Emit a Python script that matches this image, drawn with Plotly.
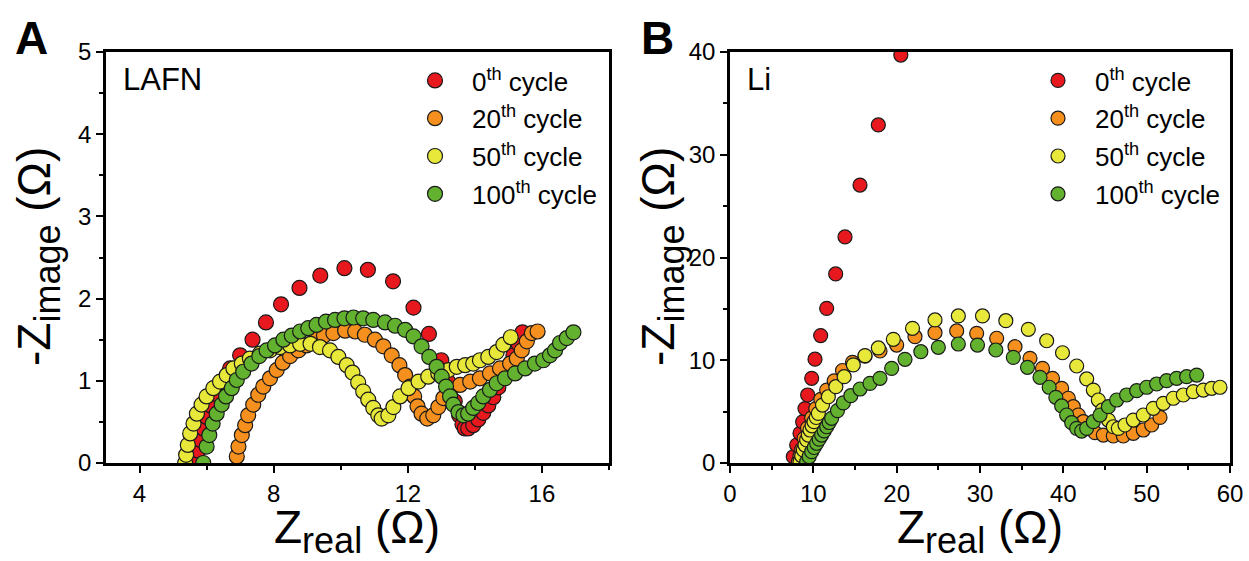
import plotly.graph_objects as go

# ---------------- data: panel A (LAFN) ----------------
cycles = ["0<sup>th</sup> cycle", "20<sup>th</sup> cycle", "50<sup>th</sup> cycle", "100<sup>th</sup> cycle"]
colors = ["#E8191E", "#F5901E", "#E8E83A", "#62B22F"]

lafn_x_0 = [5.70, 5.75, 5.82, 5.90, 6.00, 6.12, 6.26, 6.45, 6.70, 7.00, 7.37, 7.77, 8.22, 8.77,
            9.39, 10.11, 10.81, 11.56, 12.17, 12.63, 13.00, 13.22, 13.40, 13.53, 13.63, 13.70,
            13.80, 13.95, 14.10, 14.25, 14.40, 14.55, 14.70, 14.85, 15.00, 15.15, 15.30, 15.42]
lafn_y_0 = [0.03, 0.15, 0.28, 0.42, 0.56, 0.70, 0.84, 0.99, 1.15, 1.31, 1.50, 1.71, 1.93, 2.13,
            2.28, 2.37, 2.35, 2.21, 1.89, 1.57, 1.25, 0.98, 0.75, 0.58, 0.47, 0.42,
            0.42, 0.46, 0.53, 0.61, 0.70, 0.80, 0.92, 1.05, 1.18, 1.31, 1.45, 1.59]

lafn_x_20 = [6.90, 6.95, 7.05, 7.15, 7.24, 7.39, 7.54, 7.69, 7.89, 8.09, 8.27, 8.49, 8.74, 8.98,
             9.23, 9.50, 9.78, 10.13, 10.43, 10.72, 11.02, 11.27, 11.52, 11.75, 11.92, 12.07,
             12.19, 12.29, 12.41, 12.58, 12.76, 12.91, 13.06, 13.26, 13.56, 13.86, 14.15,
             14.45, 14.75, 15.05, 15.25, 15.40, 15.55, 15.70, 15.87]
lafn_y_20 = [0.08, 0.20, 0.34, 0.46, 0.58, 0.71, 0.83, 0.93, 1.03, 1.13, 1.22, 1.30, 1.37, 1.43,
             1.50, 1.55, 1.58, 1.61, 1.60, 1.56, 1.50, 1.42, 1.31, 1.19, 1.07, 0.93,
             0.81, 0.69, 0.60, 0.54, 0.58, 0.68, 0.79, 0.87, 0.95, 0.99, 1.03,
             1.09, 1.15, 1.21, 1.27, 1.37, 1.48, 1.58, 1.60]

lafn_x_50 = [5.36, 5.39, 5.44, 5.51, 5.61, 5.71, 5.85, 6.00, 6.20, 6.40, 6.60, 6.80, 7.05, 7.29,
             7.59, 7.89, 8.19, 8.49, 8.79, 9.10, 9.38, 9.68, 9.93, 10.18, 10.35, 10.52, 10.67,
             10.82, 10.97, 11.12, 11.22, 11.42, 11.57, 11.77, 12.02, 12.32, 12.61, 12.91,
             13.21, 13.46, 13.71, 13.95, 14.15, 14.40, 14.65, 14.85, 15.07]
lafn_y_50 = [0.00, 0.10, 0.22, 0.36, 0.48, 0.60, 0.71, 0.81, 0.91, 0.99, 1.07, 1.15, 1.21, 1.27,
             1.33, 1.37, 1.41, 1.43, 1.45, 1.45, 1.41, 1.37, 1.29, 1.19, 1.10, 0.98, 0.87,
             0.77, 0.67, 0.58, 0.54, 0.58, 0.68, 0.81, 0.91, 0.99, 1.05, 1.09,
             1.13, 1.17, 1.19, 1.21, 1.25, 1.29, 1.35, 1.44, 1.53]

lafn_x_100 = [5.90, 6.00, 6.08, 6.18, 6.30, 6.45, 6.58, 6.75, 6.90, 7.09, 7.34, 7.57, 7.79, 8.04,
              8.29, 8.54, 8.79, 9.03, 9.28, 9.56, 9.83, 10.11, 10.38, 10.67, 10.97, 11.32,
              11.62, 11.92, 12.17, 12.41, 12.64, 12.86, 13.01, 13.14, 13.26, 13.36, 13.51,
              13.66, 13.80, 13.95, 14.10, 14.25, 14.45, 14.65, 14.90, 15.20, 15.50, 15.79,
              16.04, 16.24, 16.39, 16.54, 16.74, 16.94]
lafn_y_100 = [0.00, 0.20, 0.34, 0.48, 0.60, 0.71, 0.81, 0.91, 1.01, 1.11, 1.21, 1.30, 1.37, 1.43,
              1.50, 1.55, 1.60, 1.64, 1.68, 1.72, 1.74, 1.76, 1.77, 1.76, 1.74, 1.71,
              1.67, 1.62, 1.54, 1.42, 1.29, 1.17, 1.05, 0.93, 0.81, 0.71, 0.62,
              0.58, 0.60, 0.67, 0.73, 0.81, 0.89, 0.97, 1.03, 1.09, 1.15, 1.21,
              1.25, 1.31, 1.37, 1.46, 1.52, 1.59]

# ---------------- data: panel B (Li) ----------------
li_x_0 = [7.6, 8.0, 8.4, 8.72, 9.0, 9.32, 9.8, 10.2, 10.88, 11.6, 12.68, 13.8, 15.6, 17.8, 20.5]
li_y_0 = [0.61, 1.75, 2.89, 4.0, 5.3, 6.62, 8.24, 10.1, 12.4, 15.05, 18.4, 22.0, 27.05, 32.9, 39.7]

li_x_20 = [8.2, 8.4, 8.6, 8.9, 9.3, 9.8, 10.3, 10.9, 11.6, 12.5, 13.5, 14.7, 16.2, 18.0, 20.0, 22.2,
           24.6, 27.2, 29.6, 32.0, 34.2, 36.0, 37.5, 38.7, 39.8, 40.6, 41.2, 41.8, 42.4, 43.0,
           43.8, 44.8, 46.0, 47.2, 48.4, 49.6, 50.6, 51.6]
li_y_20 = [0.1, 0.7, 1.3, 2.4, 3.4, 4.4, 5.3, 6.2, 7.1, 8.0, 9.0, 9.8, 10.4, 10.9, 11.48, 12.29,
           12.68, 12.85, 12.62, 12.14, 11.32, 10.19, 9.21, 8.24, 7.27, 6.30, 5.48, 4.67, 4.02, 3.37,
           2.95, 2.72, 2.63, 2.63, 2.89, 3.21, 3.70, 4.44]

li_x_50 = [8.4, 8.6, 8.8, 9.0, 9.2, 9.4, 9.6, 9.85, 10.08, 10.35, 10.6, 11.1, 11.8, 12.7, 13.7, 14.8,
           16.2, 17.8, 19.6, 21.9, 24.6, 27.4, 30.3, 33.1, 35.8, 38.0, 39.9, 41.6, 42.8, 43.6, 44.2,
           44.7, 45.4, 46.0, 46.6, 47.4, 48.4, 49.6, 50.8, 52.0, 53.2, 54.4, 55.6, 56.8, 57.8, 58.8]
li_y_50 = [0.13, 0.70, 1.27, 1.75, 2.24, 2.72, 3.21, 3.62, 4.02, 4.43, 4.83, 5.64, 6.45, 7.43, 8.40, 9.55,
           10.45, 11.2, 12.04, 13.11, 13.92, 14.31, 14.31, 13.85, 13.01, 11.90, 10.73, 9.44, 8.18, 7.10,
           6.13, 5.16, 4.18, 3.53, 3.37, 3.70, 4.18, 4.67, 5.32, 5.81, 6.30, 6.62, 6.94, 7.10, 7.27, 7.37]

li_x_100 = [9.2, 9.5, 9.8, 10.1, 10.4, 10.7, 11.0, 11.3, 11.6, 11.9, 12.2, 12.9, 13.6, 14.5, 15.6,
            16.8, 18.0, 19.4, 21.0, 22.9, 25.0, 27.4, 29.7, 31.9, 34.0, 35.7, 37.2, 38.3, 39.1, 39.8,
            40.4, 41.0, 41.6, 42.2, 42.8, 43.6, 44.4, 45.4, 46.4, 47.6, 48.8, 50.0, 51.2, 52.4, 53.6,
            54.8, 56.0]
li_y_100 = [0.13, 0.62, 1.10, 1.51, 1.92, 2.32, 2.72, 3.12, 3.53, 3.94, 4.35, 5.10, 5.85, 6.55, 7.20,
            7.75, 8.24, 9.21, 10.09, 10.83, 11.26, 11.58, 11.48, 11.0, 10.28, 9.31, 8.34, 7.37, 6.39, 5.55,
            4.67, 3.92, 3.37, 3.11, 3.37, 4.02, 4.67, 5.48, 6.13, 6.62, 7.04, 7.37, 7.69, 8.01, 8.24,
            8.40, 8.56]

lafn_series = [(lafn_x_0, lafn_y_0), (lafn_x_20, lafn_y_20), (lafn_x_50, lafn_y_50), (lafn_x_100, lafn_y_100)]
li_series = [(li_x_0, li_y_0), (li_x_20, li_y_20), (li_x_50, li_y_50), (li_x_100, li_y_100)]

FONT = "Liberation Sans, Arial, sans-serif"
W, H = 1249, 561

fig = go.Figure()

for i, (xs, ys) in enumerate(lafn_series):
    fig.add_trace(go.Scatter(
        x=xs, y=ys, mode="markers", name=cycles[i], legend="legend", legendgroup=f"a{i}",
        marker=dict(size=15, color=colors[i], line=dict(color="#1a1a1a", width=1.2)),
        xaxis="x", yaxis="y"))

for i, (xs, ys) in enumerate(li_series):
    fig.add_trace(go.Scatter(
        x=xs, y=ys, mode="markers", name=cycles[i], legend="legend2", legendgroup=f"b{i}",
        marker=dict(size=14, color=colors[i], line=dict(color="#1a1a1a", width=1.2)),
        xaxis="x2", yaxis="y2"))

# plot-area positions in paper fractions
ax_a = [106 / W, 609 / W]
ax_b = [730 / W, 1230 / W]
ydom = [1 - 463 / H, 1 - 52 / H]

axis_common = dict(
    showline=True, linecolor="black", linewidth=2.5, mirror=True,
    ticks="outside", ticklen=7, tickwidth=2, tickcolor="black",
    showgrid=False, zeroline=False, automargin=False,
    tickfont=dict(family=FONT, size=24, color="black"),
)
minor_common = dict(ticks="outside", ticklen=4, tickwidth=2, tickcolor="black", showgrid=False)

legend_common = dict(xanchor="left", yanchor="top", bgcolor="rgba(0,0,0,0)",
                     itemwidth=64, tracegroupgap=1,
                     font=dict(family=FONT, size=26, color="black"))

fig.update_layout(
    template="none",
    width=W, height=H,
    margin=dict(l=0, r=0, t=0, b=0, autoexpand=False),
    paper_bgcolor="white", plot_bgcolor="white",
    font=dict(family=FONT, color="black"),
    xaxis=dict(domain=ax_a, range=[3, 18], tick0=4, dtick=4, anchor="y",
               minor=dict(dtick=2, tick0=0, **minor_common), **axis_common),
    yaxis=dict(domain=ydom, range=[0, 5], dtick=1, anchor="x",
               minor=dict(dtick=0.5, **minor_common), **axis_common),
    xaxis2=dict(domain=ax_b, range=[0, 60], dtick=10, anchor="y2",
                minor=dict(dtick=5, **minor_common), **axis_common),
    yaxis2=dict(domain=ydom, range=[0, 40], dtick=10, anchor="x2",
                minor=dict(dtick=5, **minor_common), **axis_common),
    legend=dict(x=398 / W, y=1 - 57 / H, **legend_common),
    legend2=dict(x=1021 / W, y=1 - 57 / H, **legend_common),
)


def paper_text(text, px, py, size, xanchor="center", angle=0):
    return dict(text=text, x=px / W, y=1 - py / H, xref="paper", yref="paper",
                xanchor=xanchor, yanchor="middle", textangle=angle, showarrow=False,
                font=dict(family=FONT, size=size, color="black"))


X_TITLE = "Z<sub><span style='font-size:36px'>real</span></sub> (Ω)"
Y_TITLE = "-Z<sub><span style='font-size:36px'>image</span></sub> (Ω)"

ann = [
    paper_text("<b>A</b>", 32, 38, 46),
    paper_text("<b>B</b>", 657, 38, 46),
    paper_text("LAFN", 121, 79, 31, xanchor="left"),
    paper_text("Li", 745, 79, 31, xanchor="left"),
]
for cx in [(106 + 609) / 2, (730 + 1230) / 2]:
    ann.append(paper_text(X_TITLE, cx, 531, 46))
for cx in [38, 662]:
    ann.append(paper_text(Y_TITLE, cx, 257, 46, angle=-90))
fig.update_layout(annotations=ann)

fig.write_html("out.html")
